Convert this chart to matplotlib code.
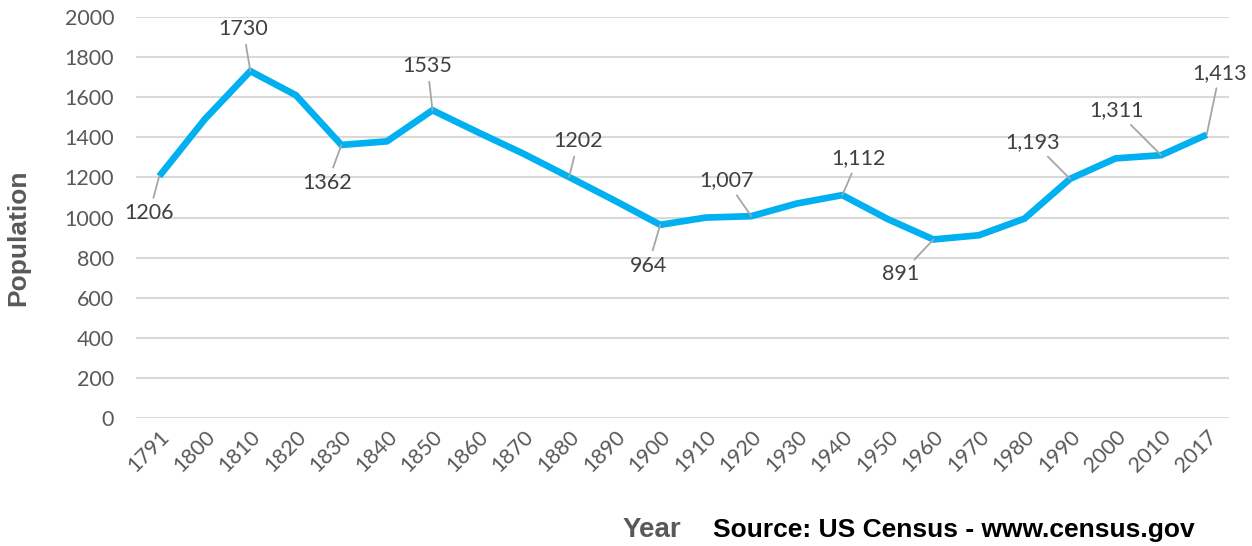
import matplotlib
matplotlib.use("Agg")
import matplotlib.pyplot as plt

years = ["1791", "1800", "1810", "1820", "1830", "1840", "1850", "1860",
         "1870", "1880", "1890", "1900", "1910", "1920", "1930", "1940",
         "1950", "1960", "1970", "1980", "1990", "2000", "2010", "2017"]
population = [1206, 1490, 1730, 1610, 1362, 1380, 1535, 1425,
              1318, 1202, 1085, 964, 1000, 1007, 1070, 1112,
              992, 891, 912, 995, 1193, 1295, 1311, 1413]
point_labels = {"1791": "1206", "1810": "1730", "1830": "1362", "1850": "1535",
                "1880": "1202", "1900": "964", "1920": "1,007", "1940": "1,112",
                "1960": "891", "1990": "1,193", "2010": "1,311", "2017": "1,413"}

# label offsets in pixels (dx, dy)
OFFSETS = {"1791": (-10, -37), "1810": (-7, 42), "1830": (-14, -38),
           "1850": (-5, 44), "1880": (9, 36), "1900": (-12, -41),
           "1920": (-25, 36), "1940": (16, 37), "1960": (-33, -35),
           "1990": (-37, 37), "2010": (-45, 45), "2017": (13, 62)}

GREY = "#595959"
FONT = "Lato"

fig = plt.figure(figsize=(12.52, 5.46), dpi=100)
ax = fig.add_axes([0.109, 0.234, 0.873, 0.735])

x = list(range(len(years)))
ax.plot(x, population, color="#00B0F0", lw=4.8, solid_joinstyle="miter",
        solid_capstyle="butt", zorder=3)

for i, yr in enumerate(years):
    if yr not in point_labels:
        continue
    dx, dy = OFFSETS[yr]
    ax.annotate(point_labels[yr], (i, population[i]), xytext=(dx, dy),
                textcoords="offset pixels", ha="center", va="center",
                fontsize=15.5, color="#404040", family=FONT, zorder=4,
                arrowprops=dict(arrowstyle="-", color="#A6A6A6", lw=1.3,
                                shrinkA=2, shrinkB=0))

ax.set_xlim(-0.5, len(years) - 0.5)
ax.set_ylim(0, 2000)
ax.set_yticks(range(0, 2001, 200))
ax.set_xticks(x)
ax.set_xticklabels(years, rotation=45, ha="right", rotation_mode="anchor")
ax.grid(axis="y", color="#D9D9D9", lw=1.5)
ax.set_axisbelow(True)
for s in ax.spines.values():
    s.set_visible(False)
ax.tick_params(length=0, labelsize=15.5, labelcolor=GREY)
ax.tick_params(axis="y", pad=16)
ax.tick_params(axis="x", pad=6)
for lab in ax.get_xticklabels() + ax.get_yticklabels():
    lab.set_family(FONT)

fig.text(0.0145, 0.564, "Population", rotation=90, ha="center", va="center",
         fontsize=19, weight="bold", color=GREY, family="Liberation Sans")
fig.text(0.521, 0.0165, "Year", ha="center", va="baseline",
         fontsize=20, weight="bold", color=GREY, family="Liberation Sans")
fig.text(0.5695, 0.0165, "Source: US Census - www.census.gov", ha="left",
         va="baseline", fontsize=19, weight="bold", color="black",
         family="Liberation Sans")

fig.savefig("out.png", dpi=100, facecolor="white")
